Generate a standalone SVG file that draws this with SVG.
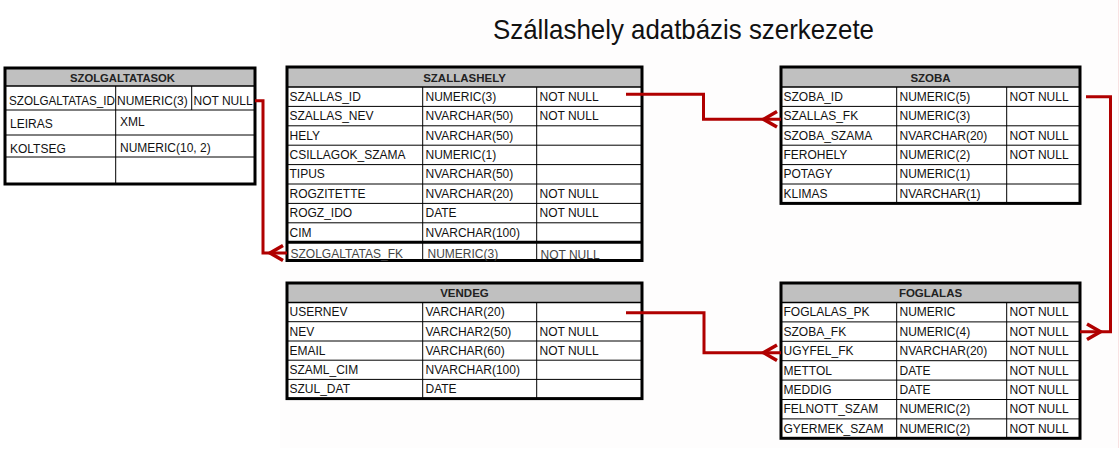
<svg xmlns="http://www.w3.org/2000/svg" width="1120" height="450" viewBox="0 0 1120 450">
  <style>
    .bg { fill: #ffffff; }
    .cell { fill: #ffffff; }
    .hdr { fill: #c0c0c0; }
    .frame { fill: none; stroke: #000; stroke-width: 3; }
    .grid { stroke: #000; stroke-width: 1; fill: none; }
    .sep { stroke: #000; stroke-width: 1.5; }
    .thick { stroke: #000; stroke-width: 3; }
    .t { font-family: "Liberation Sans", Arial, sans-serif; font-size: 12px; fill: #111; }
    .dim { fill: #444; }
    .h { font-family: "Liberation Sans", Arial, sans-serif; font-size: 11.5px; font-weight: bold; fill: #222; text-anchor: middle; }
    .title { font-family: "Liberation Sans", Arial, sans-serif; font-size: 28px; fill: #111; text-anchor: middle; }
    .link { fill: none; stroke: #b00000; stroke-width: 3; stroke-linejoin: miter; }
    .foot { fill: none; stroke: #b00000; stroke-width: 3.5; stroke-linejoin: miter; }
  </style>

  <!-- page backdrop -->
  <rect class="bg" x="0" y="0" width="1120" height="450"/>
  <rect x="280" y="0" width="838" height="448" fill="#fefdfd"/>
  <line x1="1118.5" y1="0" x2="1118.5" y2="448" stroke="#f8e2e2" stroke-width="1"/>

  <text class="title" x="683.5" y="39" textLength="381" lengthAdjust="spacingAndGlyphs">Szállashely adatbázis szerkezete</text>

  <!-- SZOLGALTATASOK -->
  <g id="szolgaltatasok">
    <rect class="cell" x="5" y="68" width="250" height="116"/>
    <rect class="hdr" x="5" y="68" width="250" height="18"/>
    <line class="sep" x1="5" y1="86" x2="255" y2="86"/>
    <line class="grid" x1="5" y1="110" x2="255" y2="110"/>
    <line class="grid" x1="5" y1="135" x2="255" y2="135"/>
    <line class="grid" x1="5" y1="157" x2="255" y2="157"/>
    <line class="grid" x1="115.7" y1="86" x2="115.7" y2="184"/>
    <line class="grid" x1="191.7" y1="86" x2="191.7" y2="110"/>
    <rect class="frame" x="5" y="68" width="250" height="116"/>
    <text class="h" x="122.5" y="81.5" textLength="105" lengthAdjust="spacingAndGlyphs">SZOLGALTATASOK</text>
    <text class="t" x="9" y="105" textLength="106" lengthAdjust="spacingAndGlyphs">SZOLGALTATAS_ID</text>
    <text class="t" x="117" y="105">NUMERIC(3)</text>
    <text class="t" x="193.5" y="105">NOT NULL</text>
    <text class="t" x="10" y="127.5">LEIRAS</text>
    <text class="t" x="120" y="126">XML</text>
    <text class="t" x="10" y="152.5">KOLTSEG</text>
    <text class="t" x="120" y="151.5">NUMERIC(10, 2)</text>
  </g>

  <!-- SZALLASHELY -->
  <g id="szallashely">
    <rect class="cell" x="287" y="67" width="355" height="193.5"/>
    <rect class="hdr" x="287" y="67" width="355" height="20"/>
    <line class="sep" x1="287" y1="87" x2="642" y2="87"/>
    <line class="grid" x1="287" y1="106.4" x2="642" y2="106.4"/>
    <line class="grid" x1="287" y1="125.8" x2="642" y2="125.8"/>
    <line class="grid" x1="287" y1="145.2" x2="642" y2="145.2"/>
    <line class="grid" x1="287" y1="164.6" x2="642" y2="164.6"/>
    <line class="grid" x1="287" y1="184" x2="642" y2="184"/>
    <line class="grid" x1="287" y1="203.4" x2="642" y2="203.4"/>
    <line class="grid" x1="287" y1="222.8" x2="642" y2="222.8"/>
    <line class="grid" x1="422.7" y1="87" x2="422.7" y2="260.5"/>
    <line class="grid" x1="536.7" y1="87" x2="536.7" y2="260.5"/>
    <line class="thick" x1="287" y1="242.2" x2="642" y2="242.2"/>
    <rect class="frame" x="287" y="67" width="355" height="193.5"/>
    <text class="h" x="464.5" y="81.5">SZALLASHELY</text>
    <text class="t" x="289.5" y="100.8">SZALLAS_ID</text>
    <text class="t" x="425.5" y="100.8">NUMERIC(3)</text>
    <text class="t" x="539.5" y="100.8">NOT NULL</text>
    <text class="t" x="289.5" y="120.2">SZALLAS_NEV</text>
    <text class="t" x="425.5" y="120.2">NVARCHAR(50)</text>
    <text class="t" x="539.5" y="120.2">NOT NULL</text>
    <text class="t" x="289.5" y="139.6">HELY</text>
    <text class="t" x="425.5" y="139.6">NVARCHAR(50)</text>
    <text class="t" x="289.5" y="159">CSILLAGOK_SZAMA</text>
    <text class="t" x="425.5" y="159">NUMERIC(1)</text>
    <text class="t" x="289.5" y="178.4">TIPUS</text>
    <text class="t" x="425.5" y="178.4">NVARCHAR(50)</text>
    <text class="t" x="289.5" y="197.8">ROGZITETTE</text>
    <text class="t" x="425.5" y="197.8">NVARCHAR(20)</text>
    <text class="t" x="539.5" y="197.8">NOT NULL</text>
    <text class="t" x="289.5" y="217.2">ROGZ_IDO</text>
    <text class="t" x="425.5" y="217.2">DATE</text>
    <text class="t" x="539.5" y="217.2">NOT NULL</text>
    <text class="t" x="289.5" y="236.6">CIM</text>
    <text class="t" x="425.5" y="236.6">NVARCHAR(100)</text>
    <text class="t dim" x="290.5" y="257.5">SZOLGALTATAS_FK</text>
    <text class="t dim" x="427.5" y="257.5">NUMERIC(3)</text>
    <text class="t dim" x="540.5" y="259">NOT NULL</text>
  </g>

  <!-- SZOBA -->
  <g id="szoba">
    <rect class="cell" x="781" y="67" width="299" height="136.4"/>
    <rect class="hdr" x="781" y="67" width="299" height="20"/>
    <line class="sep" x1="781" y1="87" x2="1080" y2="87"/>
    <line class="grid" x1="781" y1="106.4" x2="1080" y2="106.4"/>
    <line class="grid" x1="781" y1="125.8" x2="1080" y2="125.8"/>
    <line class="grid" x1="781" y1="145.2" x2="1080" y2="145.2"/>
    <line class="grid" x1="781" y1="164.6" x2="1080" y2="164.6"/>
    <line class="grid" x1="781" y1="184" x2="1080" y2="184"/>
    <line class="grid" x1="896.7" y1="87" x2="896.7" y2="203.4"/>
    <line class="grid" x1="1006.7" y1="87" x2="1006.7" y2="203.4"/>
    <rect class="frame" x="781" y="67" width="299" height="136.4"/>
    <text class="h" x="930.5" y="81.5">SZOBA</text>
    <text class="t" x="783.5" y="100.8">SZOBA_ID</text>
    <text class="t" x="899.5" y="100.8">NUMERIC(5)</text>
    <text class="t" x="1009.5" y="100.8">NOT NULL</text>
    <text class="t" x="783.5" y="120.2">SZALLAS_FK</text>
    <text class="t" x="899.5" y="120.2">NUMERIC(3)</text>
    <text class="t" x="783.5" y="139.6">SZOBA_SZAMA</text>
    <text class="t" x="899.5" y="139.6">NVARCHAR(20)</text>
    <text class="t" x="1009.5" y="139.6">NOT NULL</text>
    <text class="t" x="783.5" y="159">FEROHELY</text>
    <text class="t" x="899.5" y="159">NUMERIC(2)</text>
    <text class="t" x="1009.5" y="159">NOT NULL</text>
    <text class="t" x="783.5" y="178.4">POTAGY</text>
    <text class="t" x="899.5" y="178.4">NUMERIC(1)</text>
    <text class="t" x="783.5" y="197.8">KLIMAS</text>
    <text class="t" x="899.5" y="197.8">NVARCHAR(1)</text>
  </g>

  <!-- VENDEG -->
  <g id="vendeg">
    <rect class="cell" x="287" y="283" width="355" height="115.6"/>
    <rect class="hdr" x="287" y="283" width="355" height="19.5"/>
    <line class="sep" x1="287" y1="302.5" x2="642" y2="302.5"/>
    <line class="grid" x1="287" y1="321.7" x2="642" y2="321.7"/>
    <line class="grid" x1="287" y1="341" x2="642" y2="341"/>
    <line class="grid" x1="287" y1="360.2" x2="642" y2="360.2"/>
    <line class="grid" x1="287" y1="379.4" x2="642" y2="379.4"/>
    <line class="grid" x1="422.7" y1="302.5" x2="422.7" y2="398.6"/>
    <line class="grid" x1="536.7" y1="302.5" x2="536.7" y2="398.6"/>
    <rect class="frame" x="287" y="283" width="355" height="115.6"/>
    <text class="h" x="464.5" y="297.2">VENDEG</text>
    <text class="t" x="289.5" y="316.3">USERNEV</text>
    <text class="t" x="425.5" y="316.3">VARCHAR(20)</text>
    <text class="t" x="289.5" y="335.5">NEV</text>
    <text class="t" x="425.5" y="335.5">VARCHAR2(50)</text>
    <text class="t" x="539.5" y="335.5">NOT NULL</text>
    <text class="t" x="289.5" y="354.7">EMAIL</text>
    <text class="t" x="425.5" y="354.7">VARCHAR(60)</text>
    <text class="t" x="539.5" y="354.7">NOT NULL</text>
    <text class="t" x="289.5" y="373.9">SZAML_CIM</text>
    <text class="t" x="425.5" y="373.9">NVARCHAR(100)</text>
    <text class="t" x="289.5" y="393.1">SZUL_DAT</text>
    <text class="t" x="425.5" y="393.1">DATE</text>
  </g>

  <!-- FOGLALAS -->
  <g id="foglalas">
    <rect class="cell" x="781" y="283" width="299" height="155.3"/>
    <rect class="hdr" x="781" y="283" width="299" height="19.5"/>
    <line class="sep" x1="781" y1="302.5" x2="1080" y2="302.5"/>
    <line class="grid" x1="781" y1="321.9" x2="1080" y2="321.9"/>
    <line class="grid" x1="781" y1="341.3" x2="1080" y2="341.3"/>
    <line class="grid" x1="781" y1="360.7" x2="1080" y2="360.7"/>
    <line class="grid" x1="781" y1="380.1" x2="1080" y2="380.1"/>
    <line class="grid" x1="781" y1="399.5" x2="1080" y2="399.5"/>
    <line class="grid" x1="781" y1="418.9" x2="1080" y2="418.9"/>
    <line class="grid" x1="896.7" y1="302.5" x2="896.7" y2="438.3"/>
    <line class="grid" x1="1006.7" y1="302.5" x2="1006.7" y2="438.3"/>
    <rect class="frame" x="781" y="283" width="299" height="155.3"/>
    <text class="h" x="930.5" y="297.2">FOGLALAS</text>
    <text class="t" x="783.5" y="316.3">FOGLALAS_PK</text>
    <text class="t" x="899.5" y="316.3">NUMERIC</text>
    <text class="t" x="1009.5" y="316.3">NOT NULL</text>
    <text class="t" x="783.5" y="335.7">SZOBA_FK</text>
    <text class="t" x="899.5" y="335.7">NUMERIC(4)</text>
    <text class="t" x="1009.5" y="335.7">NOT NULL</text>
    <text class="t" x="783.5" y="355.1">UGYFEL_FK</text>
    <text class="t" x="899.5" y="355.1">NVARCHAR(20)</text>
    <text class="t" x="1009.5" y="355.1">NOT NULL</text>
    <text class="t" x="783.5" y="374.5">METTOL</text>
    <text class="t" x="899.5" y="374.5">DATE</text>
    <text class="t" x="1009.5" y="374.5">NOT NULL</text>
    <text class="t" x="783.5" y="393.9">MEDDIG</text>
    <text class="t" x="899.5" y="393.9">DATE</text>
    <text class="t" x="1009.5" y="393.9">NOT NULL</text>
    <text class="t" x="783.5" y="413.3">FELNOTT_SZAM</text>
    <text class="t" x="899.5" y="413.3">NUMERIC(2)</text>
    <text class="t" x="1009.5" y="413.3">NOT NULL</text>
    <text class="t" x="783.5" y="432.7">GYERMEK_SZAM</text>
    <text class="t" x="899.5" y="432.7">NUMERIC(2)</text>
    <text class="t" x="1009.5" y="432.7">NOT NULL</text>
  </g>

  <!-- relationships: polyline plus a chevron at the foreign-key end -->
  <g id="connectors">
    <!-- SZOLGALTATAS_ID -> SZOLGALTATAS_FK -->
    <polyline class="link" points="255,100.7 263,100.7 263,253 287,253"/>
    <polyline class="foot" points="283,245.5 270,253 283,260.5"/>
    <!-- SZALLAS_ID -> SZALLAS_FK -->
    <polyline class="link" points="626,94.3 703.5,94.3 703.5,119.3 781,119.3"/>
    <polyline class="foot" points="777,111.5 763.5,119.3 777,127"/>
    <!-- SZOBA_ID -> SZOBA_FK -->
    <polyline class="link" points="1086,96.7 1110.5,96.7 1110.5,331.7 1080,331.7"/>
    <polyline class="foot" points="1087,324 1100.5,331.7 1087,339.5"/>
    <!-- USERNEV -> UGYFEL_FK -->
    <polyline class="link" points="626,312.7 704,312.7 704,352.7 781,352.7"/>
    <polyline class="foot" points="777,345 763.5,352.7 777,360.5"/>
  </g>
</svg>
